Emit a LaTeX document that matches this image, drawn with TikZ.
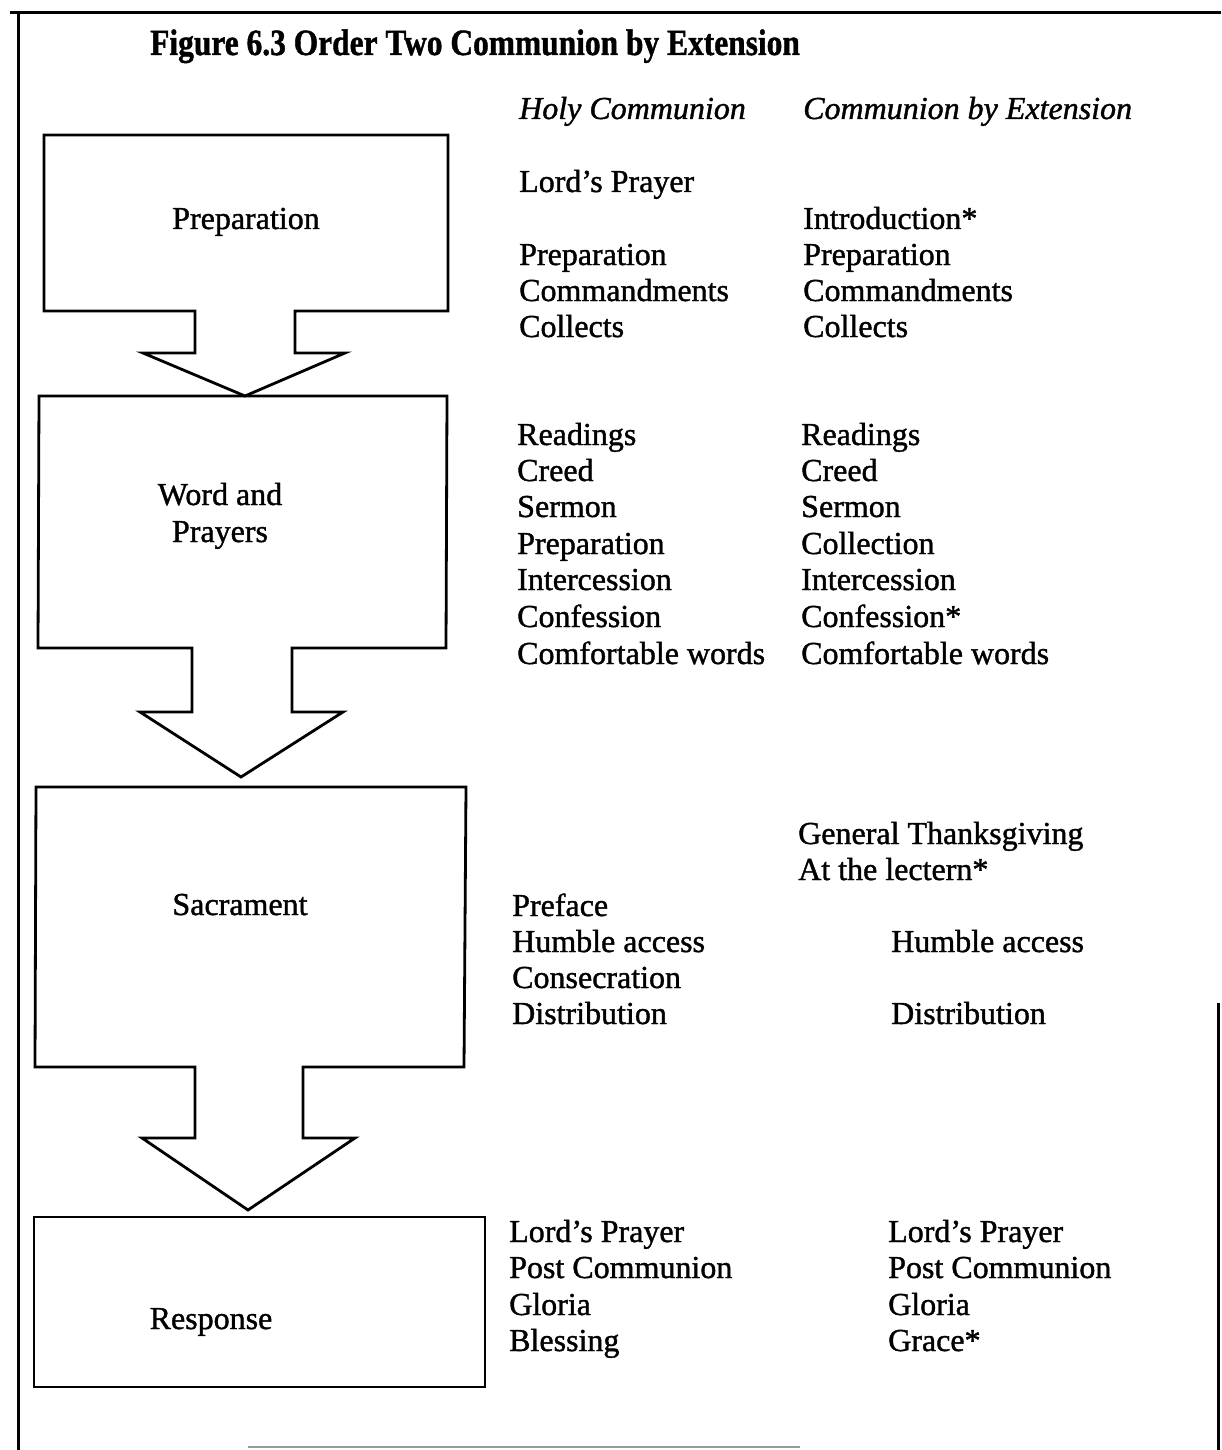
\documentclass[tikz,border=0pt]{standalone}
\usepackage{graphicx}
\usepackage{fontspec}
\setmainfont[FakeBold=1.2]{Liberation Serif}
\begin{document}
\begin{tikzpicture}[x=1pt,y=-1pt,
  stage/.style={draw=black,line width=2.8pt,line join=miter},
  frameline/.style={draw=black,line width=3pt},
  item/.style={anchor=base west,inner sep=0pt,font=\fontsize{32}{36}\selectfont},
  colhead/.style={item,font=\fontsize{32}{36}\selectfont\itshape},
  stagelabel/.style={anchor=base,inner sep=0pt,align=center,font=\fontsize{32}{37}\selectfont}]
\useasboundingbox (0,0) rectangle (1221,1450);

% outer frame
\draw[frameline] (10,13) -- (1221,13);
\draw[frameline] (18,11) -- (18,1450);
\draw[frameline] (1218,1003) -- (1218,1450);
\draw[draw=black!40,line width=1.5pt] (248,1447) -- (800,1447);

% title
\node[anchor=base west,inner sep=0pt] (title) at (150,55)
  {\scalebox{0.85}[1]{\fontsize{37}{40}\selectfont\bfseries Figure 6.3 Order Two Communion by Extension}};

% stage boxes with their block arrows
\draw[stage] (44,135) -- (448,135) -- (448,311) -- (295,311) -- (295,353) -- (345,353)
  -- (245,396) -- (143,353) -- (195,353) -- (195,311) -- (44,311) -- cycle;
\draw[stage] (39,396) -- (447,396) -- (446,648) -- (292,648) -- (292,712) -- (343,712)
  -- (241,777) -- (140,712) -- (192,712) -- (192,648) -- (38,648) -- cycle;
\draw[stage] (36,787) -- (466,787) -- (464,1067) -- (303,1067) -- (303,1138) -- (355,1138)
  -- (248,1210) -- (142,1138) -- (195,1138) -- (195,1067) -- (35,1067) -- cycle;
\draw[stage] (34,1217) rectangle (485,1387);

% stage labels
\node[stagelabel] (prep) at (246,229) {Preparation};
\node[stagelabel] (word) at (220,542) {Word and\\Prayers};
\node[stagelabel] (sacr) at (240,915) {Sacrament};
\node[stagelabel] (resp) at (211,1329) {Response};

% column headings
\node[colhead] (hc) at (519,119) {Holy Communion};
\node[colhead] (ce) at (803,119) {Communion by Extension};

% Holy Communion column
\node[item] (a1) at (519,192) {Lord’s Prayer};
\node[item] (a2) at (519,265) {Preparation};
\node[item] (a3) at (519,301) {Commandments};
\node[item] (a4) at (519,337) {Collects};
\node[item] (a5) at (517,445) {Readings};
\node[item] (a6) at (517,481) {Creed};
\node[item] (a7) at (517,517) {Sermon};
\node[item] (a8) at (517,554) {Preparation};
\node[item] (a9) at (517,590) {Intercession};
\node[item] (a10) at (517,627) {Confession};
\node[item] (a11) at (517,664) {Comfortable words};
\node[item] (a12) at (512,916) {Preface};
\node[item] (a13) at (512,952) {Humble access};
\node[item] (a14) at (512,988) {Consecration};
\node[item] (a15) at (512,1024) {Distribution};
\node[item] (a16) at (509,1242) {Lord’s Prayer};
\node[item] (a17) at (509,1278) {Post Communion};
\node[item] (a18) at (509,1315) {Gloria};
\node[item] (a19) at (509,1351) {Blessing};

% Communion by Extension column
\node[item] (b1) at (803,229) {Introduction*};
\node[item] (b2) at (803,265) {Preparation};
\node[item] (b3) at (803,301) {Commandments};
\node[item] (b4) at (803,337) {Collects};
\node[item] (b5) at (801,445) {Readings};
\node[item] (b6) at (801,481) {Creed};
\node[item] (b7) at (801,517) {Sermon};
\node[item] (b8) at (801,554) {Collection};
\node[item] (b9) at (801,590) {Intercession};
\node[item] (b10) at (801,627) {Confession*};
\node[item] (b11) at (801,664) {Comfortable words};
\node[item] (b12) at (798,844) {General Thanksgiving};
\node[item] (b13) at (798,880) {At the lectern*};
\node[item] (b14) at (891,952) {Humble access};
\node[item] (b15) at (891,1024) {Distribution};
\node[item] (b16) at (888,1242) {Lord’s Prayer};
\node[item] (b17) at (888,1278) {Post Communion};
\node[item] (b18) at (888,1315) {Gloria};
\node[item] (b19) at (888,1351) {Grace*};
\end{tikzpicture}
\end{document}
